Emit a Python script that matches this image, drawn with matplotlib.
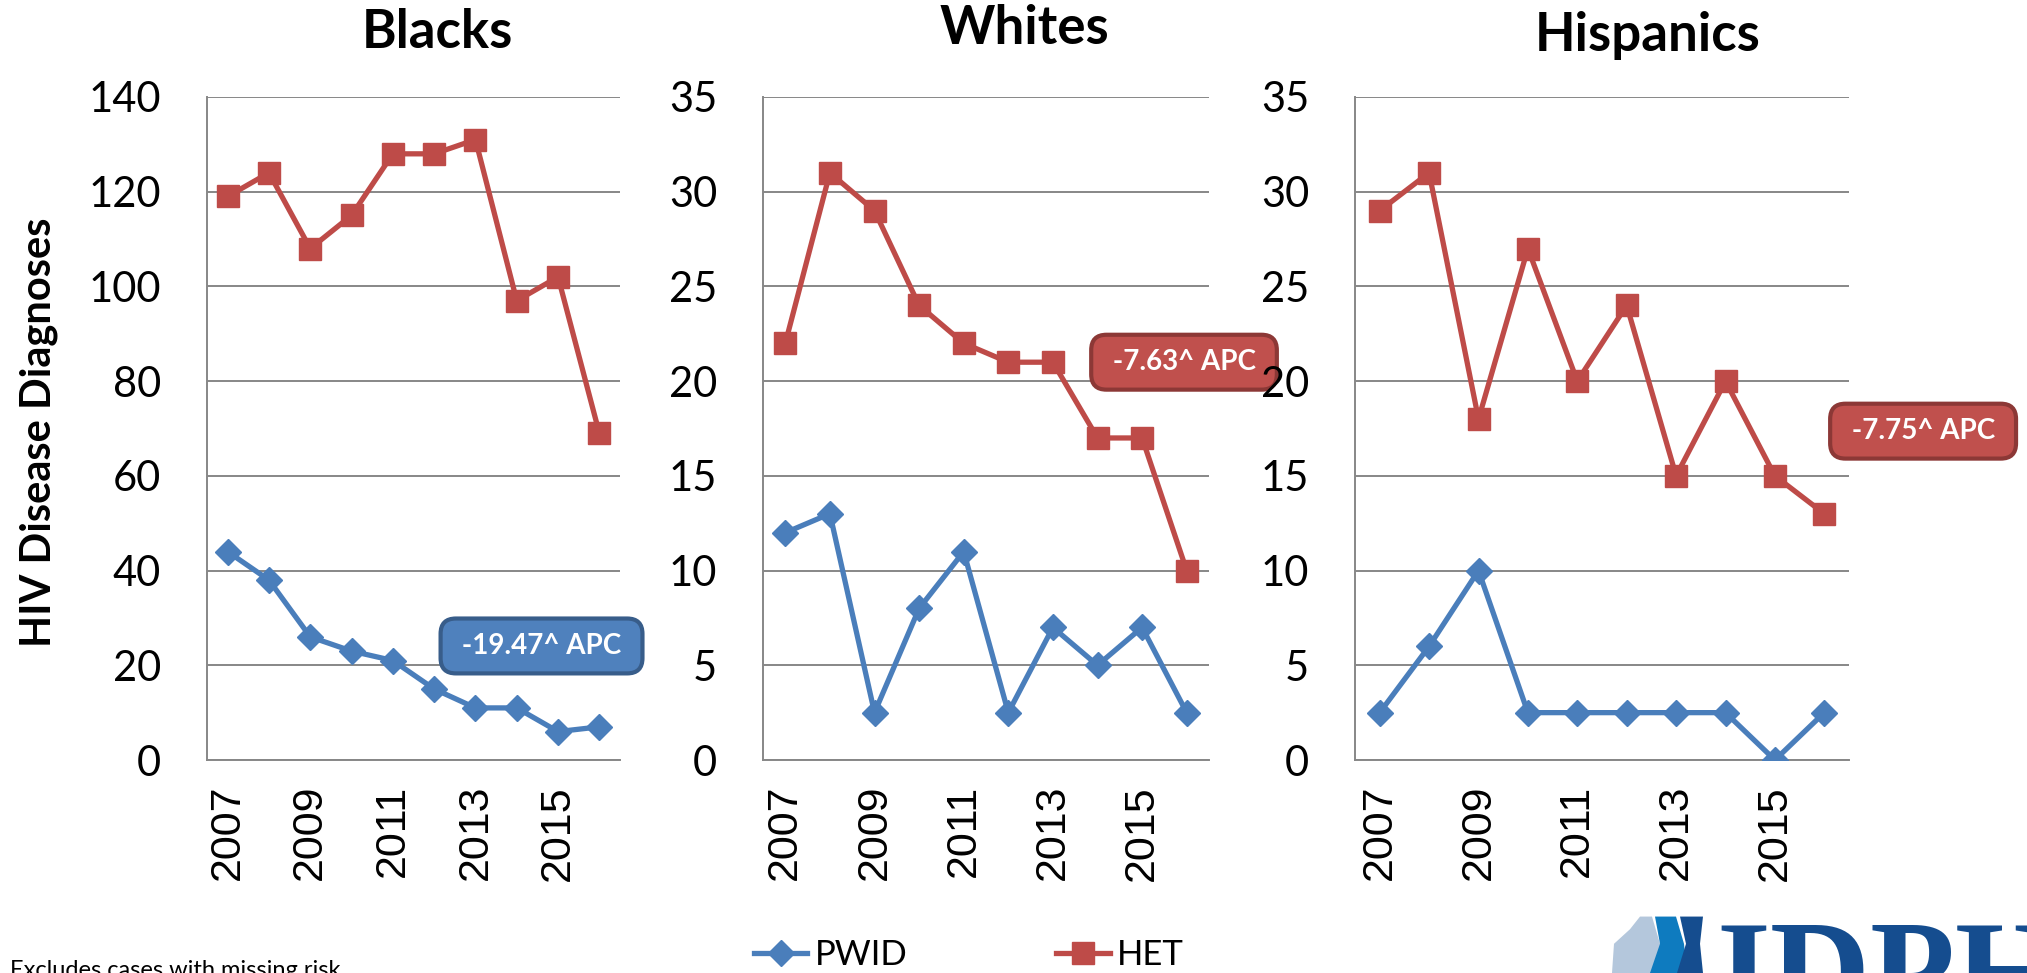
import matplotlib.pyplot as plt
from matplotlib.patches import Polygon

# data
years = [2007, 2008, 2009, 2010, 2011, 2012, 2013, 2014, 2015, 2016]
groups = ["Blacks", "Whites", "Hispanics"]

blacks_pwid = [44, 38, 26, 23, 21, 15, 11, 11, 6, 7]
blacks_het = [119, 124, 108, 115, 128, 128, 131, 97, 102, 69]
whites_pwid = [12, 13, 2.5, 8, 11, 2.5, 7, 5, 7, 2.5]
whites_het = [22, 31, 29, 24, 22, 21, 21, 17, 17, 10]
hisp_pwid = [2.5, 6, 10, 2.5, 2.5, 2.5, 2.5, 2.5, 0, 2.5]
hisp_het = [29, 31, 18, 27, 20, 24, 15, 20, 15, 13]

y_max = [140, 35, 35]
y_step = [20, 5, 5]
apc_text = ["-19.47^ APC", "-7.63^ APC", "-7.75^ APC"]

blue = "#4A7EBB"
red = "#BE4B48"
grid_c = "#878787"

plt.rcParams['font.family'] = ['Lato', 'DejaVu Sans']

fig = plt.figure(figsize=(20.27, 9.73), dpi=100)
W, H = 2027, 973

# axes boxes in pixels (left, right), shared top / bottom
boxes = [(207, 620), (763, 1209), (1355, 1849)]
top_px, bot_px = 97, 760

pwid = [blacks_pwid, whites_pwid, hisp_pwid]
het = [blacks_het, whites_het, hisp_het]
x = list(range(len(years)))

# annotation positions in axes fraction, box colours
apc_pos = [(0.81, 0.172), (0.944, 0.600), (1.15, 0.496)]
apc_fill = ["#4F81BD", "#C0504D", "#C0504D"]
apc_edge = ["#385D8A", "#8C3836", "#8C3836"]
title_x = [437, 1024, 1648]
title_y = [32, 28, 36]

for i in range(3):
    l, r = boxes[i]
    ax = fig.add_axes([l / W, 1 - bot_px / H, (r - l) / W, (bot_px - top_px) / H])
    ax.plot(x, pwid[i], color=blue, lw=3.8, marker="D", ms=13, zorder=3)
    ax.plot(x, het[i], color=red, lw=3.8, marker="s", ms=16, zorder=3)
    ax.set_xlim(-0.5, len(years) - 0.5)
    ax.set_ylim(0, y_max[i])
    ax.set_yticks(range(0, y_max[i] + 1, y_step[i]))
    ax.set_xticks(x[::2])
    ax.set_xticklabels([str(y) for y in years[::2]], rotation=90,
                       fontfamily="Liberation Sans", fontsize=31)
    ax.tick_params(axis="y", length=0, pad=33, labelsize=30)
    ax.tick_params(axis="x", length=0, pad=18)
    ax.grid(axis="y", color=grid_c, lw=1.4)
    ax.set_axisbelow(True)
    for s in ["top", "right"]:
        ax.spines[s].set_visible(False)
    for s in ["left", "bottom"]:
        ax.spines[s].set_color(grid_c)
        ax.spines[s].set_linewidth(1.4)

    ax.text(apc_pos[i][0], apc_pos[i][1], " " + apc_text[i] + " ",
            transform=ax.transAxes, ha="center", va="center",
            color="white", fontsize=20, fontweight="bold", clip_on=False, zorder=5,
            bbox=dict(boxstyle="round,pad=0.52,rounding_size=0.55",
                      fc=apc_fill[i], ec=apc_edge[i], lw=3))

    fig.text(title_x[i] / W, 1 - title_y[i] / H, groups[i], ha="center", va="center",
             fontsize=38, fontweight="bold")

fig.text(39 / W, 1 - 432 / H, "HIV Disease Diagnoses", rotation=90,
         ha="center", va="center", fontsize=30, fontweight="bold")

fig.text(10 / W, 1 - 960 / H, "Excludes cases with missing risk", ha="left", va="top",
         fontsize=17)

# legend at the bottom (cut by the figure edge like the original)
h1, = plt.plot([], [], color=blue, lw=3.8, marker="D", ms=13)
h2, = plt.plot([], [], color=red, lw=3.8, marker="s", ms=16)
fig.legend([h1, h2], ["PWID", "HET"], loc="center", bbox_to_anchor=(0.478, 0.018),
           ncol=2, frameon=False, fontsize=25, handlelength=1.55, handletextpad=0.2,
           columnspacing=4.3)

# IDPH logo approximation
fig.patches.append(Polygon([(1612 / W, 0), (1614 / W, 0.03), (1630 / W, 0.045),
                            (1640 / W, 0.058), (1652 / W, 0.058), (1660 / W, 0.03),
                            (1667 / W, 0)], closed=True, fc="#B4C7DC", ec="none",
                           transform=fig.transFigure))
fig.patches.append(Polygon([(1650 / W, 0), (1660 / W, 0.03), (1655 / W, 0.058),
                            (1676 / W, 0.058), (1684 / W, 0.03), (1687 / W, 0)],
                           closed=True, fc="#0E7BBF", ec="none", transform=fig.transFigure))
fig.patches.append(Polygon([(1677 / W, 0), (1686 / W, 0.03), (1680 / W, 0.058),
                            (1703 / W, 0.058), (1700 / W, 0.03), (1703 / W, 0)],
                           closed=True, fc="#154D8F", ec="none", transform=fig.transFigure))
fig.text(1716 / W, -0.045, "IDPH", fontfamily="Liberation Serif", fontweight="bold",
         fontsize=100, color="#154D8F", ha="left", va="baseline")

fig.savefig("out.png", dpi=100)
